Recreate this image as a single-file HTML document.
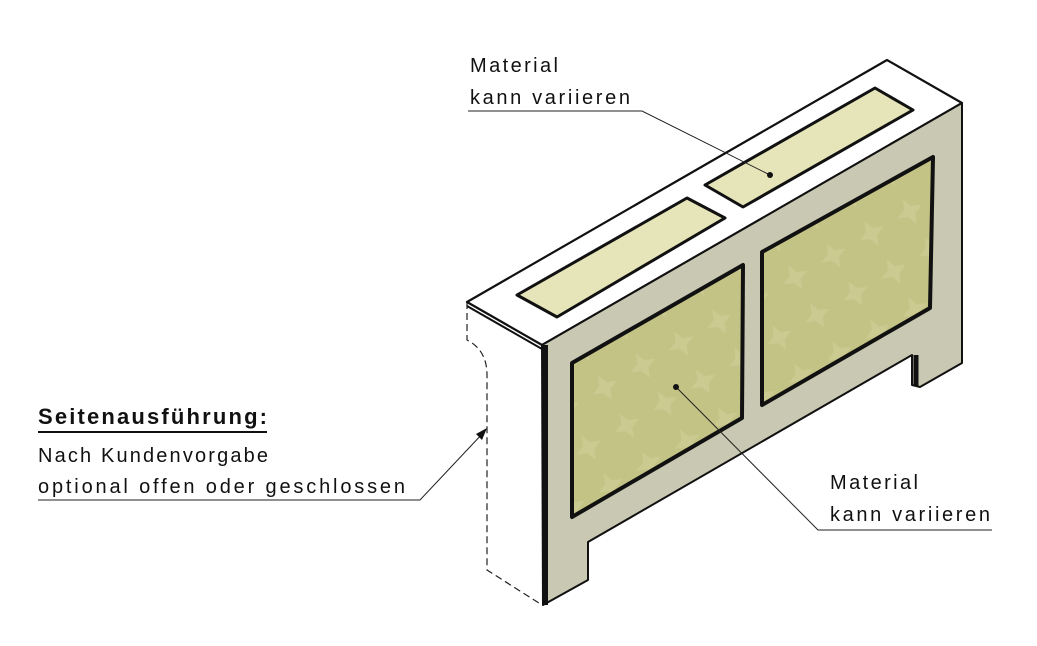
<!DOCTYPE html>
<html><head><meta charset="utf-8"><style>
html,body{margin:0;padding:0;background:#fff;}
svg{display:block}
text{font-family:"Liberation Sans",sans-serif;fill:#111;font-size:20px}
</style></head><body>
<svg width="1037" height="646" viewBox="0 0 1037 646" xmlns="http://www.w3.org/2000/svg">
<defs>
<pattern id="pt" width="44" height="44" patternUnits="userSpaceOnUse" patternTransform="rotate(-30)">
<rect width="44" height="44" fill="#c4c386"/>
<path d="M22 8 L26 18 L36 22 L26 26 L22 36 L18 26 L8 22 L18 18Z" fill="#cfce98" opacity="0.6"/>
</pattern>
</defs>
<path d="M467 302 L467 340 Q487 350 487 375 L487 570 L542 605" fill="#fff" stroke="#222" stroke-width="1.2" stroke-dasharray="7,4"/>
<polygon points="467,302 887,60 962,103 542,345" fill="#fff" stroke="#111" stroke-width="2.2" stroke-linejoin="round"/>
<line x1="467" y1="306" x2="542" y2="349" stroke="#111" stroke-width="2"/>
<path d="M542 345 L962 103 L962 363 L920 387 L912 385 L912 355 L588 542 L588 580 L543 605 Z" fill="#c9c8b2" stroke="#111" stroke-width="2" stroke-linejoin="round"/>
<line x1="545" y1="345" x2="545" y2="605" stroke="#111" stroke-width="6"/>
<line x1="916" y1="355" x2="916" y2="386" stroke="#111" stroke-width="5"/>
<polygon points="572,363 743,265 742,418 572,517" fill="url(#pt)" stroke="#111" stroke-width="4" stroke-linejoin="round"/>
<polygon points="762,252 933,157 930,308 762,405" fill="url(#pt)" stroke="#111" stroke-width="4" stroke-linejoin="round"/>
<polygon points="517,295 687,198 725,218 557,317" fill="#e6e5b9" stroke="#111" stroke-width="3" stroke-linejoin="round"/>
<polygon points="705,185 875,88 913,110 743,207" fill="#e6e5b9" stroke="#111" stroke-width="3" stroke-linejoin="round"/>
<polyline points="468,111 642,111 770,175" fill="none" stroke="#222" stroke-width="1"/>
<circle cx="770" cy="175" r="3" fill="#111"/>
<polyline points="676,387 818,530 992,530" fill="none" stroke="#222" stroke-width="1"/>
<circle cx="676" cy="387" r="3" fill="#111"/>
<polyline points="38,500 420,500 484,432" fill="none" stroke="#222" stroke-width="1"/>
<polygon points="487,428 476,434 482,440" fill="#111"/>
<line x1="38" y1="432" x2="267" y2="432" stroke="#111" stroke-width="2"/>
<text x="470" y="72" textLength="88" lengthAdjust="spacing">Material</text>
<text x="470" y="104" textLength="160" lengthAdjust="spacing">kann variieren</text>
<text x="830" y="489" textLength="88" lengthAdjust="spacing">Material</text>
<text x="830" y="521" textLength="160" lengthAdjust="spacing">kann variieren</text>
<text x="38" y="424" textLength="229" lengthAdjust="spacing" style="font-size:22px;font-weight:bold">Seitenausführung:</text>
<text x="38" y="462" textLength="230" lengthAdjust="spacing">Nach Kundenvorgabe</text>
<text x="38" y="493" textLength="367" lengthAdjust="spacing">optional offen oder geschlossen</text>
</svg>
</body></html>
